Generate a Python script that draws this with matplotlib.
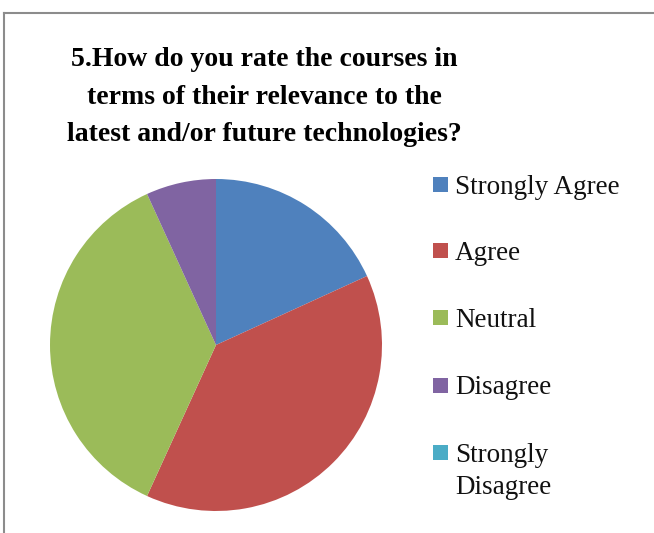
import matplotlib
matplotlib.use("Agg")
import matplotlib.pyplot as plt
from matplotlib.patches import Rectangle
from matplotlib.lines import Line2D

categories = ["Strongly Agree", "Agree", "Neutral", "Disagree", "Strongly\nDisagree"]
values = [8, 17, 16, 3, 0]
colors = ["#4F81BD", "#C0504D", "#9BBB59", "#8064A2", "#4BACC6"]
title_lines = ["5.How do you rate the courses in",
               "terms of their relevance to the",
               "latest and/or future technologies?"]

W, H = 654, 533
fig = plt.figure(figsize=(W / 100, H / 100), dpi=100)
fig.patch.set_facecolor("white")

# chart border (cropped at right/bottom)
fig.add_artist(Line2D([4 / W, 1], [1 - 13 / H, 1 - 13 / H], color="#8c8c8c", lw=1.5))
fig.add_artist(Line2D([4 / W, 4 / W], [0, 1 - 13 / H], color="#8c8c8c", lw=1.5))

cx, cy, r = 216, 345, 166
ax = fig.add_axes([(cx - r) / W, 1 - (cy + r) / H, 2 * r / W, 2 * r / H])
wedges, _ = ax.pie(values, colors=colors, startangle=90, counterclock=False,
                   radius=1, wedgeprops=dict(linewidth=0))
ax.set_xlim(-1, 1)
ax.set_ylim(-1, 1)
ax.set_aspect("equal")
ax.axis("off")

title_baselines = [66, 103.5, 141]
for line, yb in zip(title_lines, title_baselines):
    fig.text(264 / W, 1 - yb / H, line, ha="center", va="baseline",
             fontsize=20, fontweight="bold", family="Liberation Serif",
             color="black")

centers = [184, 250.5, 317.5, 385, 452]
for lab, w, yc in zip(categories, wedges, centers):
    fig.add_artist(Rectangle((433 / W, 1 - (yc + 7.5) / H), 15 / W, 15 / H,
                             facecolor=w.get_facecolor(), edgecolor="none",
                             transform=fig.transFigure))
    for k, part in enumerate(lab.split("\n")):
        fig.text(455 / W, 1 - (yc + 9.5 + 33 * k) / H, part, ha="left",
                 va="baseline", fontsize=19.5, family="Liberation Serif",
                 color="#111111")

fig.savefig("out.png", dpi=100, facecolor="white")
